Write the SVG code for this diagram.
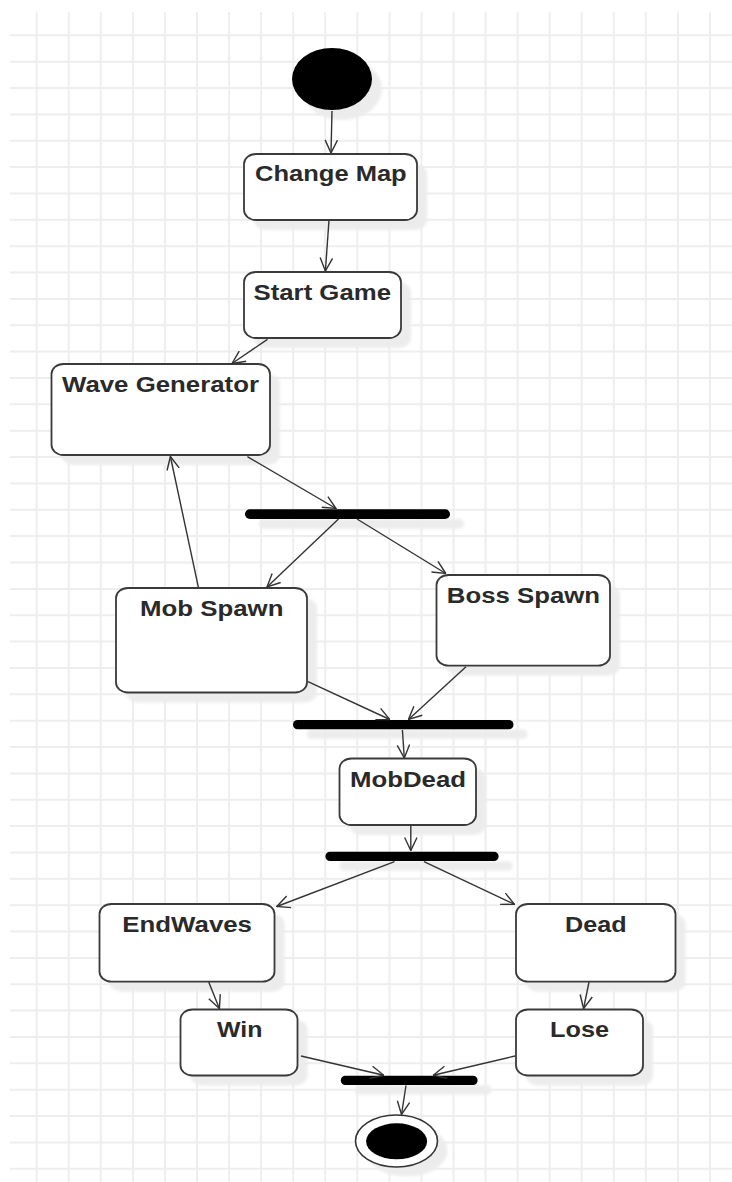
<svg xmlns="http://www.w3.org/2000/svg" width="732" height="1182" viewBox="0 0 732 1182">
<defs>
<style>
.grid{fill:none;stroke:#eeeeee;stroke-width:2}
.node{fill:#ffffff;stroke:#3a3a3a;stroke-width:1.8}
.shadow{fill:#ececec;filter:url(#blur)}
.bar{fill:#000000}
.lbl{font-family:"Liberation Sans",Arial,sans-serif;font-size:22px;font-weight:bold;fill:#2a2a2a}
.conn{fill:none;stroke:#333333;stroke-width:1.4;marker-end:url(#arrow)}
</style>
<filter id="blur" x="-20%" y="-20%" width="140%" height="140%"><feGaussianBlur stdDeviation="1.5"/></filter>
<marker id="arrow" viewBox="0 0 14 14" refX="13.5" refY="7" markerWidth="14" markerHeight="14" markerUnits="userSpaceOnUse" orient="auto">
<path d="M0.5,0.8 L13.5,7 L0.5,13.2" fill="none" stroke="#333333" stroke-width="1.4"/>
</marker>
</defs>
<rect x="0" y="0" width="732" height="1182" fill="#ffffff"/>
<path class="grid" d="M10,35.3H732M10,61.7H732M10,88H732M10,114.4H732M10,140.7H732M10,167.1H732M10,193.5H732M10,219.8H732M10,246.2H732M10,272.5H732M10,298.9H732M10,325.3H732M10,351.6H732M10,378H732M10,404.3H732M10,430.7H732M10,457.1H732M10,483.4H732M10,509.8H732M10,536.1H732M10,562.5H732M10,588.9H732M10,615.2H732M10,641.6H732M10,667.9H732M10,694.3H732M10,720.7H732M10,747H732M10,773.4H732M10,799.7H732M10,826.1H732M10,852.5H732M10,878.8H732M10,905.2H732M10,931.5H732M10,957.9H732M10,984.3H732M10,1010.6H732M10,1037H732M10,1063.3H732M10,1089.7H732M10,1116.1H732M10,1142.4H732M10,1168.8H732M36.7,12V1182M68.8,12V1182M100.8,12V1182M132.9,12V1182M164.9,12V1182M197,12V1182M229.1,12V1182M261.1,12V1182M293.2,12V1182M325.2,12V1182M357.3,12V1182M389.4,12V1182M421.4,12V1182M453.5,12V1182M485.5,12V1182M517.6,12V1182M549.7,12V1182M581.7,12V1182M613.8,12V1182M645.8,12V1182M677.9,12V1182M710,12V1182"/>

<g id="start">
<ellipse class="shadow" cx="342" cy="89" rx="40" ry="31"/>
<ellipse cx="332" cy="79" rx="40" ry="31" fill="#000000"/>
</g>
<g id="changeMap">
<rect class="shadow" x="254" y="164" width="173" height="66" rx="12" ry="10"/>
<rect class="node" x="244" y="154" width="173" height="66" rx="12" ry="10"/>
<text class="lbl" x="255" y="181" textLength="151.7" lengthAdjust="spacingAndGlyphs">Change Map</text>
</g>
<g id="startGame">
<rect class="shadow" x="254" y="282" width="157" height="66" rx="12" ry="10"/>
<rect class="node" x="244" y="272" width="157" height="66" rx="12" ry="10"/>
<text class="lbl" x="253.5" y="300" textLength="137.5" lengthAdjust="spacingAndGlyphs">Start Game</text>
</g>
<g id="waveGenerator">
<rect class="shadow" x="61.5" y="374" width="218.5" height="91" rx="12" ry="10"/>
<rect class="node" x="51.5" y="364" width="218.5" height="91" rx="12" ry="10"/>
<text class="lbl" x="62" y="392.3" textLength="197" lengthAdjust="spacingAndGlyphs">Wave Generator</text>
</g>
<g id="fork1">
<rect class="shadow" x="259" y="519" width="205" height="9.7" rx="4.8"/>
<rect class="bar" x="245" y="509.3" width="205" height="9.7" rx="4.8"/>
</g>
<g id="mobSpawn">
<rect class="shadow" x="126" y="598" width="191" height="104.5" rx="12" ry="10"/>
<rect class="node" x="116" y="588" width="191" height="104.5" rx="12" ry="10"/>
<text class="lbl" x="140" y="616" textLength="143.4" lengthAdjust="spacingAndGlyphs">Mob Spawn</text>
</g>
<g id="bossSpawn">
<rect class="shadow" x="446.5" y="585" width="173.5" height="90.7" rx="12" ry="10"/>
<rect class="node" x="436.5" y="575" width="173.5" height="90.7" rx="12" ry="10"/>
<text class="lbl" x="446.8" y="602.7" textLength="153.2" lengthAdjust="spacingAndGlyphs">Boss Spawn</text>
</g>
<g id="join1">
<rect class="shadow" x="307" y="729.5" width="220.5" height="9.3" rx="4.6"/>
<rect class="bar" x="293" y="720" width="220.5" height="9.3" rx="4.6"/>
</g>
<g id="mobDead">
<rect class="shadow" x="349.5" y="768.5" width="136.5" height="66.5" rx="12" ry="10"/>
<rect class="node" x="339.5" y="758.5" width="136.5" height="66.5" rx="12" ry="10"/>
<text class="lbl" x="350" y="786.7" textLength="116" lengthAdjust="spacingAndGlyphs">MobDead</text>
</g>
<g id="fork2">
<rect class="shadow" x="339.4" y="861.2" width="173.2" height="9.3" rx="4.6"/>
<rect class="bar" x="325.4" y="851.7" width="173.2" height="9.3" rx="4.6"/>
</g>
<g id="endWaves">
<rect class="shadow" x="109.5" y="914" width="175" height="77.7" rx="12" ry="10"/>
<rect class="node" x="99.5" y="904" width="175" height="77.7" rx="12" ry="10"/>
<text class="lbl" x="122.3" y="931.7" textLength="129.7" lengthAdjust="spacingAndGlyphs">EndWaves</text>
</g>
<g id="dead">
<rect class="shadow" x="526" y="914" width="159.5" height="77.7" rx="12" ry="10"/>
<rect class="node" x="516" y="904" width="159.5" height="77.7" rx="12" ry="10"/>
<text class="lbl" x="565" y="931.7" textLength="61.5" lengthAdjust="spacingAndGlyphs">Dead</text>
</g>
<g id="win">
<rect class="shadow" x="190.5" y="1019.5" width="117" height="66" rx="12" ry="10"/>
<rect class="node" x="180.5" y="1009.5" width="117" height="66" rx="12" ry="10"/>
<text class="lbl" x="217" y="1037.3" textLength="45.4" lengthAdjust="spacingAndGlyphs">Win</text>
</g>
<g id="lose">
<rect class="shadow" x="526" y="1019.5" width="127" height="66" rx="12" ry="10"/>
<rect class="node" x="516" y="1009.5" width="127" height="66" rx="12" ry="10"/>
<text class="lbl" x="550" y="1037.3" textLength="59" lengthAdjust="spacingAndGlyphs">Lose</text>
</g>
<g id="join2">
<rect class="shadow" x="354.8" y="1085.2" width="136.8" height="9.3" rx="4.6"/>
<rect class="bar" x="340.8" y="1075.7" width="136.8" height="9.3" rx="4.6"/>
</g>
<g id="end">
<ellipse class="shadow" cx="406.5" cy="1150.5" rx="41" ry="26"/>
<ellipse cx="396.5" cy="1141" rx="41" ry="26" fill="#ffffff" stroke="#333333" stroke-width="1.6"/>
<ellipse cx="396.6" cy="1141.3" rx="30.5" ry="18" fill="#000000"/>
</g>

<g id="connectors">
<path class="conn" d="M332,111 L331,153"/>
<path class="conn" d="M329,220 L325.4,271"/>
<path class="conn" d="M267.5,339.3 L232,363.5"/>
<path class="conn" d="M247.4,456.7 L336,508.5"/>
<path class="conn" d="M198.4,587.3 L170.4,456.5"/>
<path class="conn" d="M338.5,519 L267,587"/>
<path class="conn" d="M357,519 L445.8,573.5"/>
<path class="conn" d="M308,681.7 L389.8,719.5"/>
<path class="conn" d="M466,666.7 L408.5,719.5"/>
<path class="conn" d="M402.4,730 L404.3,758"/>
<path class="conn" d="M410.8,826 L410.8,850.5"/>
<path class="conn" d="M394.5,861.7 L276.8,906.5"/>
<path class="conn" d="M424,861.7 L514.5,904.3"/>
<path class="conn" d="M208.7,982 L219.4,1008.5"/>
<path class="conn" d="M589,982 L583.6,1008.5"/>
<path class="conn" d="M301,1056 L383.8,1075.3"/>
<path class="conn" d="M515,1056 L433.2,1075.3"/>
<path class="conn" d="M406,1085.5 L401.5,1114.5"/>
</g>
</svg>
